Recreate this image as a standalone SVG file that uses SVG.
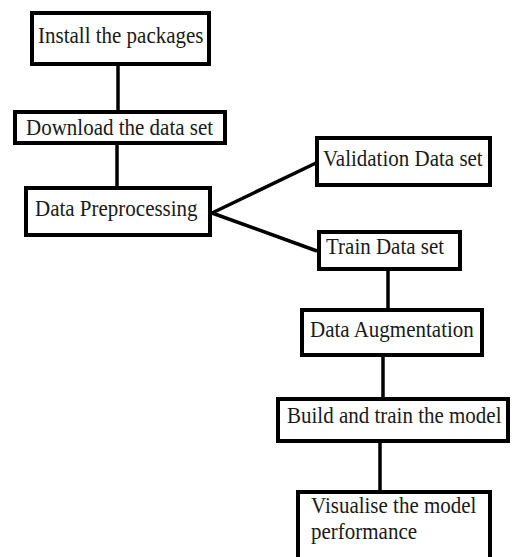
<svg xmlns="http://www.w3.org/2000/svg" width="512" height="557" viewBox="0 0 512 557">
<style>
.box{fill:#fff;stroke:#000;stroke-width:4}
.lbl{font-family:"Liberation Serif","Times New Roman",serif;font-size:21px;fill:#1a1a1a}
.con{stroke:#000;stroke-width:3.5;fill:none}
</style>
<rect width="512" height="557" fill="#fff"/>
<g id="connectors">
<line class="con" x1="118" y1="66" x2="118" y2="111"/>
<line class="con" x1="117" y1="145" x2="117" y2="187"/>
<line class="con" x1="212" y1="213" x2="316" y2="163"/>
<line class="con" x1="212" y1="213" x2="317" y2="251"/>
<line class="con" x1="388" y1="271" x2="388" y2="309"/>
<line class="con" x1="383" y1="357" x2="383" y2="398"/>
<line class="con" x1="380" y1="443" x2="380" y2="491"/>
</g>
<g id="install"><rect class="box" x="32" y="13" width="177" height="51"/><text class="lbl" transform="translate(38,43) scale(1,1.08)">Install the packages</text></g>
<g id="download"><rect class="box" x="15" y="112" width="210" height="31"/><text class="lbl" transform="translate(26,135) scale(1,1.08)">Download the data set</text></g>
<g id="preprocessing"><rect class="box" x="26" y="188" width="184" height="47"/><text class="lbl" transform="translate(35,216) scale(1,1.08)">Data Preprocessing</text></g>
<g id="validation"><rect class="box" x="317" y="138" width="173" height="47"/><text class="lbl" transform="translate(323,166) scale(1,1.08)">Validation Data set</text></g>
<g id="train"><rect class="box" x="319" y="232" width="141" height="37"/><text class="lbl" transform="translate(326,254) scale(1,1.08)">Train Data set</text></g>
<g id="augmentation"><rect class="box" x="302" y="310" width="180" height="45"/><text class="lbl" transform="translate(310,337) scale(1,1.08)">Data Augmentation</text></g>
<g id="build"><rect class="box" x="278" y="399" width="230" height="42"/><text class="lbl" transform="translate(287,423) scale(1,1.08)">Build and train the model</text></g>
<g id="visualise"><rect class="box" x="298" y="492" width="192" height="70"/><text class="lbl" transform="translate(311,513) scale(1,1.08)">Visualise the model</text><text class="lbl" transform="translate(311,539) scale(1,1.08)">performance</text></g>
</svg>
